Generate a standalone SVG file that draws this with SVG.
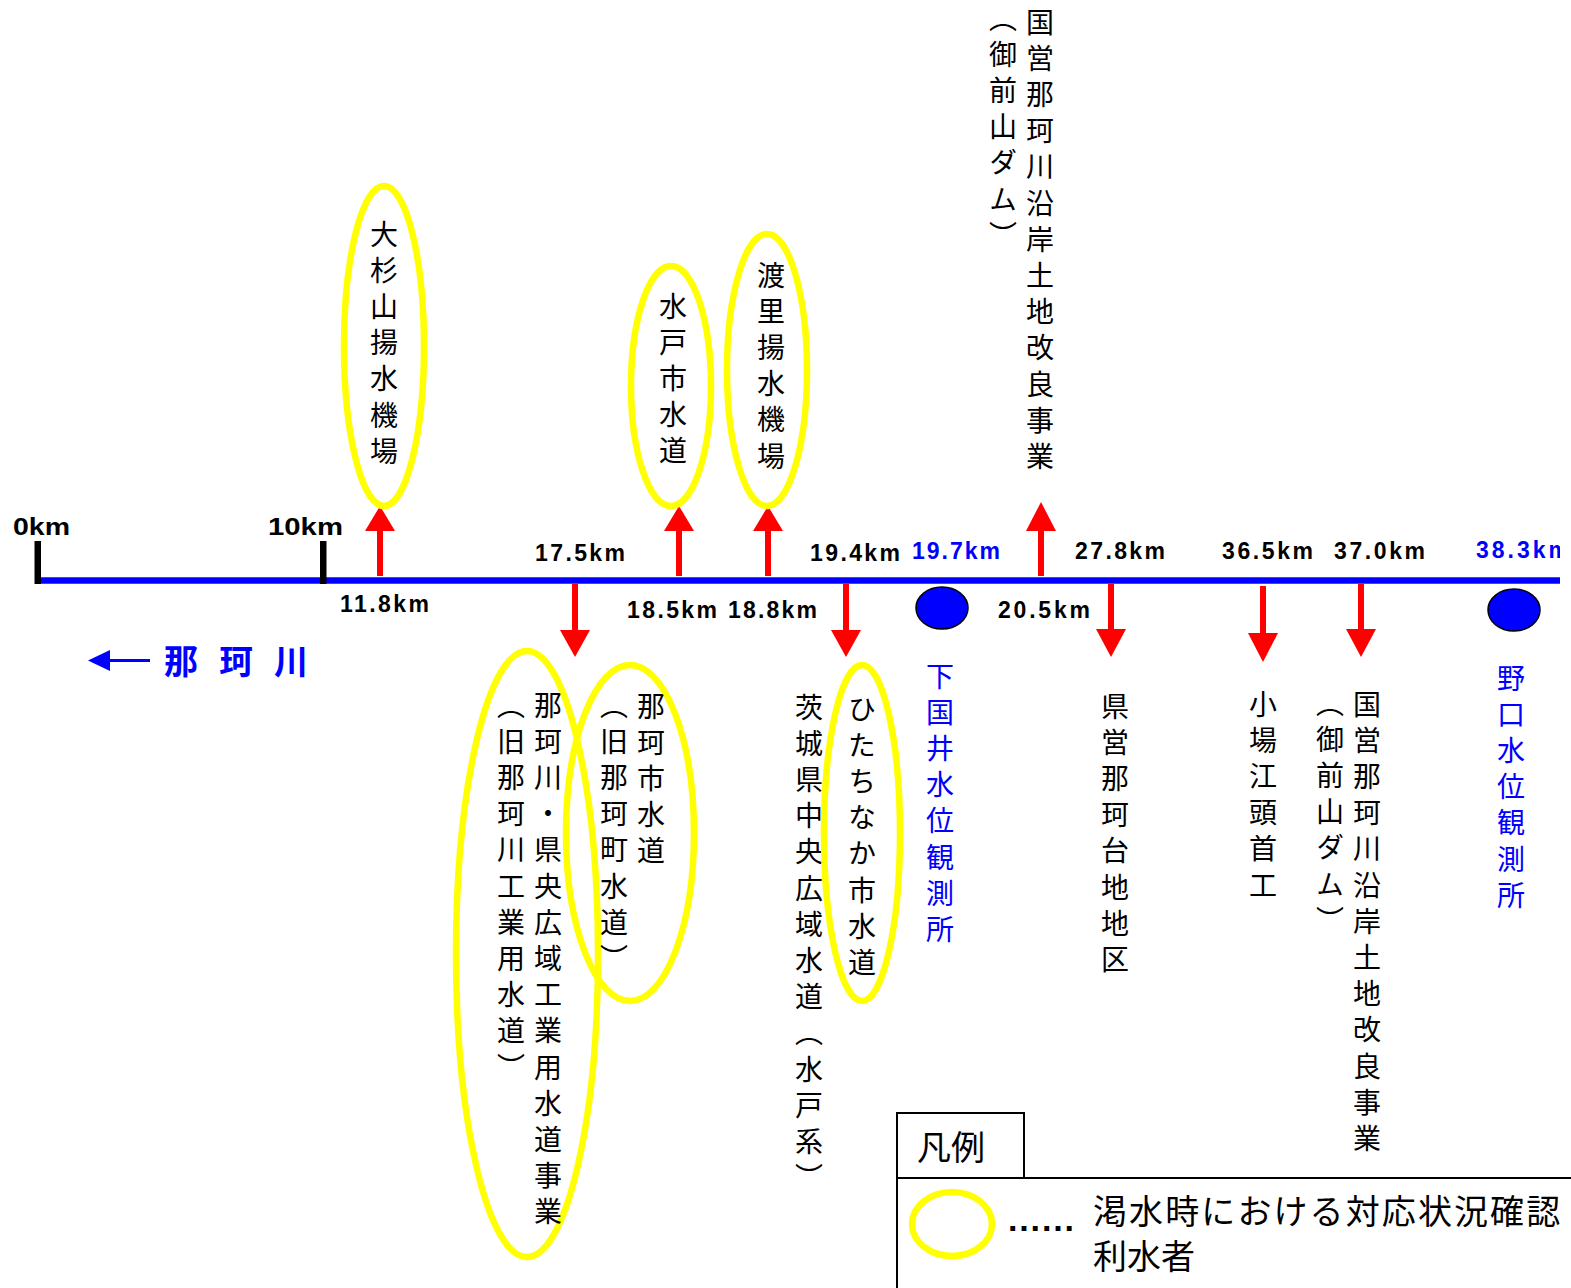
<svg xmlns="http://www.w3.org/2000/svg" width="1571" height="1288" viewBox="0 0 1571 1288">
<style>
.v{font-family:"Noto Sans CJK JP","Noto Sans CJK SC",sans-serif;font-size:28px;writing-mode:vertical-rl;text-orientation:mixed;letter-spacing:8.2px;fill:#000}
.vb{fill:#0000ff}
.km{font-family:"Liberation Sans",Arial,sans-serif;font-weight:bold;font-size:23px;fill:#000}
.kb{fill:#0000ff}
.ring{fill:none;stroke:#ffff00;stroke-width:6.5}
.shaft{stroke:#ff0000;stroke-width:6;fill:none}
.head{fill:#ff0000}
.leg{font-family:"Noto Sans CJK JP","Noto Sans CJK SC",sans-serif;font-size:34px;fill:#000}
</style>
<defs>
<clipPath id="edge"><rect x="0" y="0" width="1560" height="1288"/></clipPath>
</defs>
<rect width="1571" height="1288" fill="#ffffff"/>

<g id="river">
<line x1="38" y1="580.5" x2="1560" y2="580.5" stroke="#0000ff" stroke-width="6.5"/>
<rect x="34.5" y="541" width="6.5" height="43" fill="#000"/>
<rect x="320" y="541" width="6.5" height="43" fill="#000"/>
<text class="km" x="13" y="535" textLength="57" lengthAdjust="spacingAndGlyphs" font-size="27">0km</text>
<text class="km" x="268" y="535" textLength="75" lengthAdjust="spacingAndGlyphs" font-size="27">10km</text>
<line x1="108" y1="660.5" x2="150" y2="660.5" stroke="#0000ff" stroke-width="3"/>
<polygon points="88,660.5 110,650 110,671" fill="#0000ff"/>
<text x="164" y="674" font-family="'Noto Sans CJK JP',sans-serif" font-weight="bold" font-size="34" fill="#0000ff" textLength="144" lengthAdjust="spacing">那珂川</text>
</g>

<g id="km-labels">
<text class="km" x="340" y="612" textLength="89">11.8km</text>
<text class="km" x="535" y="561" textLength="90">17.5km</text>
<text class="km" x="627" y="618" textLength="90">18.5km</text>
<text class="km" x="728" y="618" textLength="89">18.8km</text>
<text class="km" x="810" y="561" textLength="90">19.4km</text>
<text class="km kb" x="912" y="559" textLength="88">19.7km</text>
<text class="km" x="998" y="618" textLength="92">20.5km</text>
<text class="km" x="1075" y="559" textLength="90">27.8km</text>
<text class="km" x="1222" y="559" textLength="91">36.5km</text>
<text class="km" x="1334" y="559" textLength="91">37.0km</text>
<g clip-path="url(#edge)"><text class="km kb" x="1476" y="558" textLength="93">38.3km</text></g>
</g>

<g id="connectors">
<line class="shaft" x1="380" y1="576" x2="380" y2="528"/><polygon class="head" points="380,506 365,531 395,531"/>
<line class="shaft" x1="679" y1="576" x2="679" y2="528"/><polygon class="head" points="679,506 664,531 694,531"/>
<line class="shaft" x1="768" y1="576" x2="768" y2="528"/><polygon class="head" points="768,506 753,531 783,531"/>
<line class="shaft" x1="1041" y1="576" x2="1041" y2="528"/><polygon class="head" points="1041,502 1026,531 1056,531"/>
<line class="shaft" x1="575" y1="584" x2="575" y2="632"/><polygon class="head" points="575,657 560,630 590,630"/>
<line class="shaft" x1="846" y1="584" x2="846" y2="632"/><polygon class="head" points="846,657 831,630 861,630"/>
<line class="shaft" x1="1111" y1="584" x2="1111" y2="632"/><polygon class="head" points="1111,657 1096,629 1126,629"/>
<line class="shaft" x1="1263" y1="586" x2="1263" y2="636"/><polygon class="head" points="1263,662 1248,633 1278,633"/>
<line class="shaft" x1="1361" y1="584" x2="1361" y2="632"/><polygon class="head" points="1361,657 1346,629 1376,629"/>
</g>

<g id="station-shimokunii">
<ellipse cx="942" cy="608" rx="26" ry="21" fill="#0000ff" stroke="#000" stroke-width="1.5"/>
<text class="v vb" x="940" y="662">下国井水位観測所</text>
</g>
<g id="station-noguchi">
<ellipse cx="1514" cy="610" rx="26" ry="21" fill="#0000ff" stroke="#000" stroke-width="1.5"/>
<text class="v vb" x="1511" y="664">野口水位観測所</text>
</g>

<g id="osugiyama">
<ellipse class="ring" cx="384" cy="346" rx="40" ry="160"/>
<text class="v" x="384" y="220">大杉山揚水機場</text>
</g>
<g id="mito">
<ellipse class="ring" cx="671" cy="386" rx="40" ry="120"/>
<text class="v" x="673" y="292">水戸市水道</text>
</g>
<g id="watari">
<ellipse class="ring" cx="767" cy="370" rx="40" ry="136"/>
<text class="v" x="771" y="261">渡里揚水機場</text>
</g>
<g id="kokuei-top">
<text class="v" x="1040" y="8">国営那珂川沿岸土地改良事業</text>
<text class="v" x="1003" y="4">（御前山ダム）</text>
</g>

<g id="naka-kogyo">
<ellipse class="ring" cx="527" cy="954" rx="71" ry="303"/>
<text class="v" x="548" y="691">那珂川・県央広域工業用水道事業</text>
<text class="v" x="511" y="691">（旧那珂川工業用水道）</text>
</g>
<g id="naka-city">
<ellipse class="ring" cx="630" cy="833" rx="64" ry="168"/>
<text class="v" x="651" y="692">那珂市水道</text>
<text class="v" x="614" y="691">（旧那珂町水道）</text>
</g>
<g id="ibaraki">
<text class="v" x="809" y="693">茨城県中央広域水道（水戸系）</text>
</g>
<g id="hitachinaka">
<ellipse class="ring" cx="862" cy="833" rx="38" ry="168"/>
<text class="v" x="862" y="695">ひたちなか市水道</text>
</g>
<g id="kenei">
<text class="v" x="1115" y="692">県営那珂台地地区</text>
</g>
<g id="kobaegashira">
<text class="v" x="1263" y="690">小場江頭首工</text>
</g>
<g id="kokuei-bottom">
<text class="v" x="1367" y="690">国営那珂川沿岸土地改良事業</text>
<text class="v" x="1330" y="689">（御前山ダム）</text>
</g>

<g id="legend">
<path d="M897,1288 V1113 H1024 V1178 M897,1178 H1571" fill="none" stroke="#000" stroke-width="2"/>
<text class="leg" x="917" y="1160">凡例</text>
<ellipse class="ring" cx="952" cy="1224" rx="40" ry="32" stroke-width="7"/>
<text x="1008" y="1231" font-family="'Liberation Sans',sans-serif" font-weight="bold" font-size="34" fill="#000" textLength="66" lengthAdjust="spacing">......</text>
<text class="leg"><tspan x="1093" y="1224" letter-spacing="2.1">渇水時における対応状況確認</tspan><tspan x="1093" y="1269">利水者</tspan></text>
</g>
</svg>
